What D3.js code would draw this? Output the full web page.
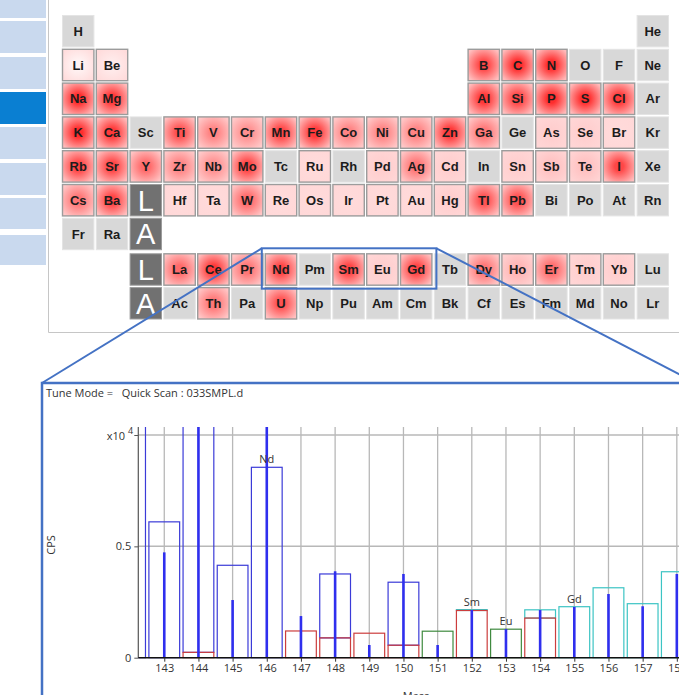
<!DOCTYPE html>
<html>
<head>
<meta charset="utf-8">
<script src="https://cdn.jsdelivr.net/npm/d3@7"></script>
<style>
  body { margin: 0; background: #fff; }
  svg { display: block; }
</style>
</head>
<body>
<svg width="679" height="695"></svg>
<script>
const _ = null;

const tableRows = [
  ["H","","","","","","","","","","","","","","","","","He"],
  ["Li","Be","","","","","","","","","","","B","C","N","O","F","Ne"],
  ["Na","Mg","","","","","","","","","","","Al","Si","P","S","Cl","Ar"],
  ["K","Ca","Sc","Ti","V","Cr","Mn","Fe","Co","Ni","Cu","Zn","Ga","Ge","As","Se","Br","Kr"],
  ["Rb","Sr","Y","Zr","Nb","Mo","Tc","Ru","Rh","Pd","Ag","Cd","In","Sn","Sb","Te","I","Xe"],
  ["Cs","Ba","L","Hf","Ta","W","Re","Os","Ir","Pt","Au","Hg","Tl","Pb","Bi","Po","At","Rn"],
  ["Fr","Ra","A","","","","","","","","","","","","","","",""],
  ["","","L","La","Ce","Pr","Nd","Pm","Sm","Eu","Gd","Tb","Dy","Ho","Er","Tm","Yb","Lu"],
  ["","","A","Ac","Th","Pa","U","Np","Pu","Am","Cm","Bk","Cf","Es","Fm","Md","No","Lr"]
];

const tableLevels = [
  [_,_,_,_,_,_,_,_,_,_,_,_,_,_,_,_,_,_],
  [0.05,0.08,_,_,_,_,_,_,_,_,_,_,0.75,0.85,0.85,_,_,_],
  [0.85,0.8,_,_,_,_,_,_,_,_,_,_,0.8,0.75,0.85,0.85,0.8,_],
  [0.85,0.8,_,0.7,0.5,0.45,0.75,0.8,0.5,0.5,0.5,0.8,0.55,_,0.2,0.2,0.15,_],
  [0.75,0.75,0.6,0.5,0.45,0.75,_,0.15,_,0.2,0.55,0.2,_,0.2,0.25,0.25,0.75,_],
  [0.55,0.75,_,0.15,0.15,0.6,0.15,0.15,0.15,0.15,0.15,0.2,0.7,0.7,_,_,_,_],
  [_,_,_,_,_,_,_,_,_,_,_,_,_,_,_,_,_,_],
  [_,_,_,0.6,0.8,0.55,0.75,_,0.75,0.2,0.75,_,0.55,0.3,0.6,0.2,0.2,_],
  [_,_,_,_,0.55,_,0.7,_,_,_,_,_,_,_,_,_,_,_]
];

// ---- mass spectrum around the highlighted lanthanides
const masses  = [142,143,144,145,146,147,148,149,150,151,152,153,154,155,156,157,158];
const smBox   = [0,0,0.024,0,0,0.12,0.089,0.11,0.056,0,0.212,0,0.178,0,0,0,0];
const ndBox   = [1.35,0.61,1.18,0.415,0.855,0,0.287,0,0.283,0,0,0,0,0,0,0,0];
const euBox   = [0,0,0,0,0,0,0,0,0,0.119,0,0.128,0,0,0,0,0];
const gdBox   = [0,0,0,0,0,0,0,0,0,0,0.004,0,0.037,0.229,0.314,0.2425,0.386];
const measured = [_,0.473,1.3,0.259,1.3,0.187,0.388,0.057,0.376,0.057,0.214,0.129,0.214,0.228,0.286,0.231,0.376];
const peakLabels = ["Nd","Sm","Eu","Gd"];
const peakLabelMass = [146,152,153,155];
const yTicks = [0,0.5,1];

const svg = d3.select('svg');

// ---- side bar
const side = [[0,18],[21,53],[57,89],[92,124],[127,159],[163,195],[198,229],[235,265]];
svg.selectAll('.side')
  .data(side)
  .join('rect')
  .attr('x', 0).attr('y', d => d[0])
  .attr('width', 46).attr('height', d => d[1] - d[0])
  .attr('fill', (d, i) => i === 3 ? '#0a7fd2' : '#c9d9ee');

// table panel border
svg.append('path')
  .attr('d', 'M48.5,0 V332.5 H679')
  .attr('fill', 'none').attr('stroke', '#c6c6c6').attr('stroke-width', 1);

// ---- periodic table cells
const cellSize = 32.4;
const colX = d3.scaleLinear().domain([0, 17]).range([62, 636.6]);
const rowSlot = [0,1,2,3,4,5,6,7.05,8.05];
const rowY = d3.scaleLinear().domain([0, 8]).range([15, 285.4]);
const isLA = d => d.sym === 'L' || d.sym === 'A';

const cells = [];
tableRows.forEach((row, r) => row.forEach((sym, c) => {
  if (sym) cells.push({ sym, r, c, level: tableLevels[r][c] });
}));

const defs = svg.append('defs');
const redC = d3.interpolateRgb('#ffffff', '#ff0808');
const edgeC = d3.interpolateRgb('#ffdede', '#ffb4b4');
cells.filter(d => d.level != null && !isLA(d)).forEach(d => {
  const g = defs.append('radialGradient').attr('id', 'g' + d.r + '_' + d.c)
    .attr('cx', '50%').attr('cy', '50%').attr('r', '62%');
  g.append('stop').attr('offset', '0%').attr('stop-color', redC(d.level));
  g.append('stop').attr('offset', '22%').attr('stop-color', redC(d.level));
  g.append('stop').attr('offset', '100%').attr('stop-color', edgeC(d.level));
});

const cellG = svg.append('g').selectAll('g')
  .data(cells)
  .join('g')
  .attr('transform', d => `translate(${colX(d.c)},${rowY(rowSlot[d.r])})`);

cellG.append('rect')
  .attr('x', 0.5).attr('y', 0.5)
  .attr('width', cellSize - 1).attr('height', cellSize - 1)
  .attr('fill', d => {
    if (isLA(d)) return '#717171';
    return d.level == null ? '#d8d8d8' : `url(#g${d.r}_${d.c})`;
  })
  .attr('stroke', d => (d.level == null && !isLA(d)) ? '#e4e4e4' : '#9c9c9c')
  .attr('stroke-width', d => d.level == null ? 1 : 1.4);

cellG.append('text')
  .attr('x', cellSize / 2)
  .attr('y', d => isLA(d) ? cellSize / 2 + 10.5 : cellSize / 2 + 4.6)
  .attr('text-anchor', 'middle')
  .style('font-family', '"Liberation Sans", Arial, sans-serif')
  .style('font-weight', d => isLA(d) ? 'normal' : 'bold')
  .style('font-size', d => isLA(d) ? '29px' : '13px')
  .style('fill', d => isLA(d) ? '#ffffff' : '#1c1c1c')
  .text(d => d.sym);

// ---- zoom window
const hx0 = colX(6) - 3, hx1 = colX(10) + cellSize + 4;
const hy0 = rowY(rowSlot[7]) - 5, hy1 = rowY(rowSlot[7]) + cellSize + 3;
const panel = { x: 42, y: 383 };
const blue = '#4472c4';

svg.append('rect')
  .attr('x', hx0).attr('y', hy0).attr('width', hx1 - hx0).attr('height', hy1 - hy0)
  .attr('fill', 'none').attr('stroke', blue).attr('stroke-width', 2);

svg.append('line')
  .attr('x1', hx0).attr('y1', hy0).attr('x2', panel.x).attr('y2', panel.y)
  .attr('stroke', blue).attr('stroke-width', 2);
svg.append('line')
  .attr('x1', hx1).attr('y1', hy0).attr('x2', 696).attr('y2', panel.y)
  .attr('stroke', blue).attr('stroke-width', 2);

svg.append('rect')
  .attr('x', panel.x).attr('y', panel.y).attr('width', 700).attr('height', 400)
  .attr('fill', '#fff').attr('stroke', blue).attr('stroke-width', 2.5);

// ---- spectrum
const chartFont = '"Open Sans", "Noto Sans", sans-serif';
svg.append('text')
  .attr('x', 46).attr('y', 397)
  .style('font-family', chartFont).style('font-size', '11px').style('fill', '#333')
  .attr('xml:space', 'preserve')
  .text('Tune Mode =   Quick Scan : 033SMPL.d');

const plot = { left: 138.3, top: 427, bottom: 657.7 };
const x = d3.scaleLinear().domain([142.24, 158.5]).range([plot.left, plot.left + 16.26 * 34.17]);
const y = d3.scaleLinear().domain([0, 1]).range([plot.bottom, 435]);

defs.append('clipPath').attr('id', 'plotClip')
  .append('rect').attr('x', plot.left).attr('y', plot.top)
  .attr('width', 700).attr('height', plot.bottom - plot.top + 1);

const grid = svg.append('g');
grid.selectAll('.vg')
  .data(masses.filter(m => m > 142))
  .join('line')
  .attr('x1', d => x(d)).attr('x2', d => x(d))
  .attr('y1', plot.top).attr('y2', plot.bottom)
  .attr('stroke', '#b8b8b8').attr('stroke-width', 1.3);
grid.selectAll('.hg')
  .data(yTicks.filter(v => v > 0))
  .join('line')
  .attr('x1', plot.left).attr('x2', 679)
  .attr('y1', d => y(d)).attr('y2', d => y(d))
  .attr('stroke', '#b8b8b8').attr('stroke-width', 1.5);

const rows = masses.map((m, i) => ({ mass: m, Sm: smBox[i], Nd: ndBox[i], Eu: euBox[i], Gd: gdBox[i] }));
const stacked = d3.stack().keys(['Sm', 'Nd', 'Eu', 'Gd'])(rows);
const boxColor = { Sm: '#cc3d3d', Nd: '#3b3bd8', Eu: '#3f8a3f', Gd: '#3cc4c4' };

const plotG = svg.append('g').attr('clip-path', 'url(#plotClip)');
['Nd', 'Eu', 'Gd', 'Sm'].forEach(key => {
  const series = stacked.find(s => s.key === key);
  plotG.append('g').selectAll('rect')
    .data(series.filter(d => d[1] - d[0] > 0))
    .join('rect')
    .attr('x', d => x(d.data.mass - 0.45))
    .attr('width', d => x(d.data.mass + 0.45) - x(d.data.mass - 0.45))
    .attr('y', d => y(d[1]))
    .attr('height', d => y(d[0]) - y(d[1]))
    .attr('fill', 'none')
    .attr('stroke', boxColor[key])
    .attr('stroke-width', 1.2);
});

plotG.selectAll('.spike')
  .data(masses.map((m, i) => ({ mass: m, v: measured[i] })).filter(d => d.v != null))
  .join('rect')
  .attr('x', d => x(d.mass) - 1.3)
  .attr('width', 2.6)
  .attr('y', d => y(d.v))
  .attr('height', d => y(0) - y(d.v))
  .attr('fill', '#2f2fee');

// axes
svg.append('line')
  .attr('x1', plot.left).attr('x2', plot.left)
  .attr('y1', plot.top).attr('y2', plot.bottom)
  .attr('stroke', '#555').attr('stroke-width', 1.2);

const xAxis = svg.append('g')
  .attr('transform', `translate(0,${plot.bottom})`)
  .call(d3.axisBottom(x).tickValues(masses.filter(m => m > 142)).tickFormat(d3.format('d')).tickSize(4).tickPadding(3));
xAxis.select('.domain').attr('d', `M${plot.left},0H679`).attr('stroke', '#111').attr('stroke-width', 1.6);
xAxis.selectAll('.tick line').attr('stroke', '#333');
xAxis.selectAll('text').style('font-family', chartFont).style('font-size', '11px').style('fill', '#333');

const yAxis = svg.append('g')
  .attr('transform', `translate(${plot.left},0)`)
  .call(d3.axisLeft(y).tickValues(yTicks).tickSize(4).tickPadding(3)
    .tickFormat(d => d === 0 ? '0' : d === 0.5 ? '0.5' : ''));
yAxis.select('.domain').remove();
yAxis.selectAll('.tick line').attr('stroke', '#555');
yAxis.selectAll('text').style('font-family', chartFont).style('font-size', '11px').style('fill', '#333');

svg.append('text')
  .attr('x', 125).attr('y', y(1) + 5)
  .attr('text-anchor', 'end')
  .style('font-family', chartFont).style('font-size', '11px').style('fill', '#333')
  .text('x10');
svg.append('text')
  .attr('x', 128).attr('y', y(1) - 1)
  .style('font-family', chartFont).style('font-size', '9px').style('fill', '#333')
  .text('4');

// element labels above the pattern
const totals = masses.map((m, i) => smBox[i] + ndBox[i] + euBox[i] + gdBox[i]);
svg.selectAll('.plabel')
  .data(peakLabels)
  .join('text')
  .attr('x', (d, i) => x(peakLabelMass[i]))
  .attr('y', (d, i) => y(totals[masses.indexOf(peakLabelMass[i])]) - 4)
  .attr('text-anchor', 'middle')
  .style('font-family', chartFont).style('font-size', '11px').style('fill', '#333')
  .text(d => d);

svg.append('text')
  .attr('transform', 'translate(55,545) rotate(-90)')
  .attr('text-anchor', 'middle')
  .style('font-family', chartFont).style('font-size', '11px').style('fill', '#333')
  .text('CPS');

svg.append('text')
  .attr('x', 416).attr('y', 700)
  .attr('text-anchor', 'middle')
  .style('font-family', chartFont).style('font-size', '11px').style('fill', '#333')
  .text('Mass');
</script>
</body>
</html>
